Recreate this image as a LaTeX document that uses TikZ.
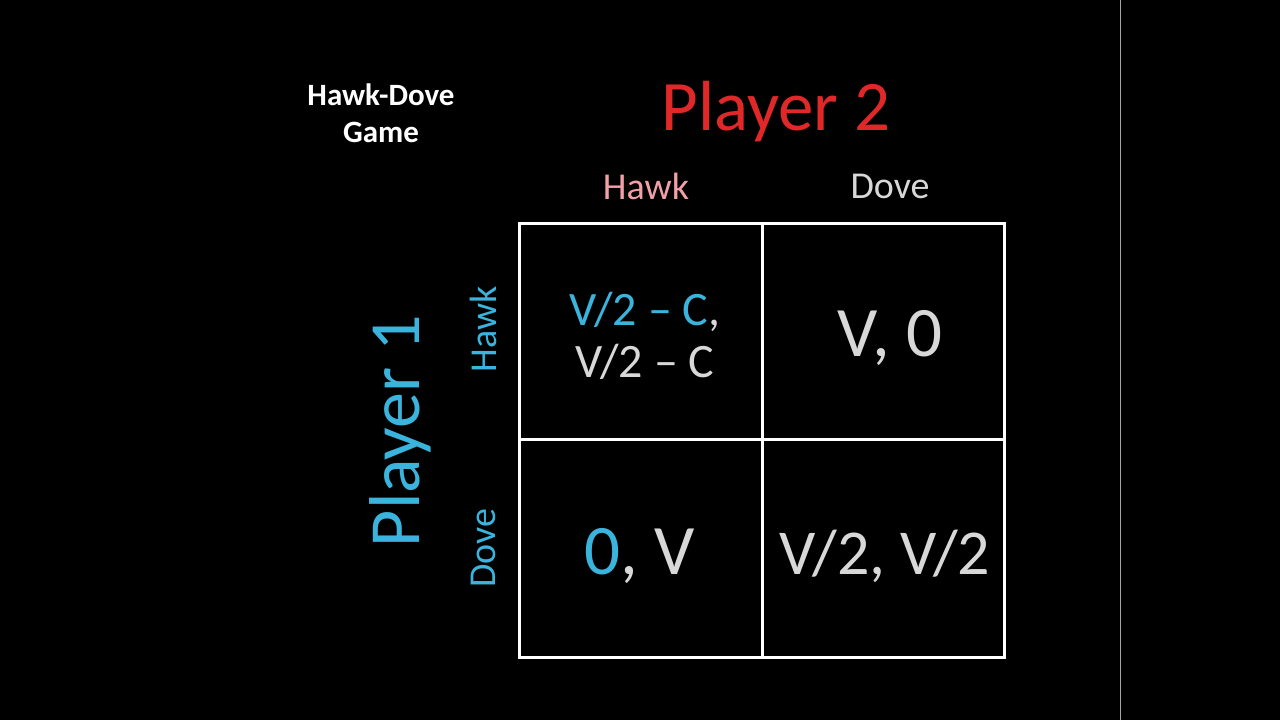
\documentclass[tikz,border=0pt]{standalone}
\usepackage{fontspec}
\setmainfont{Carlito}
\definecolor{pred}{HTML}{E02828}
\definecolor{pcyan}{HTML}{3AB4DC}
\definecolor{pink}{HTML}{F0A0A8}
\definecolor{ltgray}{HTML}{D8D8D8}
\begin{document}
\begin{tikzpicture}[x=1pt,y=-1pt,
  lab/.style={inner sep=0pt,anchor=center},
  grid/.style={draw=white,line width=3pt}]
\fill[black] (0,0) rectangle (1280,720);
\useasboundingbox (0,0) rectangle (1280,720);
\draw[gray!70,line width=0.8pt] (1120,0) -- (1120,720);
\draw[grid] (519,223) rectangle (1004,657);
\draw[grid] (762,223) -- (762,657);
\draw[grid] (519,439) -- (1004,439);
\node[lab,white,align=center,font=\bfseries\fontsize{31}{37}\selectfont] (title) at (381,113) {Hawk-Dove\\Game};
\node[lab,pred,font=\fontsize{71}{76}\selectfont] (p2) at (776,112) {Player 2};
\node[lab,pink,font=\fontsize{38}{42}\selectfont] (h2) at (646,186) {Hawk};
\node[lab,ltgray,font=\fontsize{38}{42}\selectfont] (d2) at (890,186) {Dove};
\node[lab,pcyan,rotate=90,font=\fontsize{72}{78}\selectfont] (p1) at (400,431) {Player 1};
\node[lab,pcyan,rotate=90,font=\fontsize{38}{42}\selectfont] (h1) at (483,329) {Hawk};
\node[lab,pcyan,rotate=90,font=\fontsize{38}{42}\selectfont] (d1) at (483,548) {Dove};
\node[lab,align=center,font=\fontsize{48}{52}\selectfont] (c11) at (645,336) {\textcolor{pcyan}{V/2 – C}\textcolor{ltgray}{,}\\\textcolor{ltgray}{V/2 – C}};
\node[lab,ltgray,font=\fontsize{71}{76}\selectfont] (c12) at (890,338) {V, 0};
\node[lab,font=\fontsize{71}{76}\selectfont] (c21) at (640,556) {\textcolor{pcyan}{0}\textcolor{ltgray}{, V}};
\node[lab,ltgray,font=\fontsize{64}{70}\selectfont] (c22) at (885,556) {V/2, V/2};
\end{tikzpicture}
\end{document}
